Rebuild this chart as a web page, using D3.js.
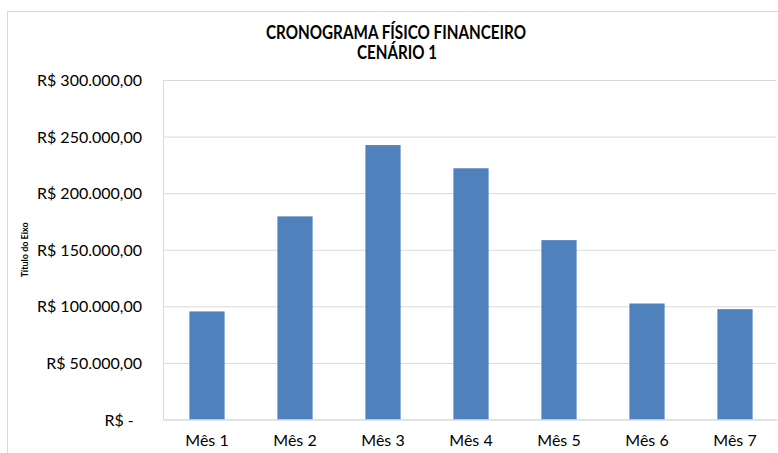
<!DOCTYPE html>
<html>
<head>
<meta charset="utf-8">
<script src="https://cdn.jsdelivr.net/npm/d3@7"></script>
<style>
  body { margin: 0; background: #fff; }
  text { font-family: Lato, "Open Sans", sans-serif; fill: #000; }
</style>
</head>
<body>
<div id="chart"></div>
<script>
// data
const categories = ["Mês 1", "Mês 2", "Mês 3", "Mês 4", "Mês 5", "Mês 6", "Mês 7"];
const values = [95500, 179500, 242500, 222000, 158500, 102500, 97500];
const yTicks = [0, 50000, 100000, 150000, 200000, 250000, 300000];
const titleLines = ["CRONOGRAMA FÍSICO FINANCEIRO", "CENÁRIO 1"];
const yAxisTitle = "Título do Eixo";

const width = 778, height = 453;
const margin = {top: 80, right: 0, bottom: 33.5, left: 163};
const plotW = width - margin.left - margin.right + 1;
const plotH = height - margin.top - margin.bottom;

const svg = d3.select("#chart").append("svg")
    .attr("width", width)
    .attr("height", height);

// chart area border (cropped on right & bottom)
svg.append("path")
    .attr("d", `M7.5,${height} V11.5 H${width}`)
    .attr("fill", "none")
    .attr("stroke", "#d9d9d9");

// title (calibri is narrower than what we have, so squeeze it a bit)
svg.append("text")
    .attr("x", 396).attr("y", 39)
    .attr("text-anchor", "middle")
    .attr("textLength", 260).attr("lengthAdjust", "spacingAndGlyphs")
    .style("font-weight", "bold").style("font-size", "18px")
    .text(titleLines[0]);
svg.append("text")
    .attr("x", 397).attr("y", 59)
    .attr("text-anchor", "middle")
    .attr("textLength", 80).attr("lengthAdjust", "spacingAndGlyphs")
    .style("font-weight", "bold").style("font-size", "18px")
    .text(titleLines[1]);

const g = svg.append("g")
    .attr("transform", `translate(${margin.left},${margin.top})`);

const x = d3.scaleBand()
    .domain(categories)
    .range([0, plotW])
    .paddingInner(0.6)
    .paddingOuter(0.3);

const y = d3.scaleLinear()
    .domain([0, 300000])
    .range([plotH, 0]);

const fmt = v => v === 0 ? "R$ -\u00a0\u00a0" :
    "R$ " + d3.format(",.2f")(v).replace(/,/g, "#").replace(".", ",").replace(/#/g, ".");

// gridlines
g.append("g")
    .attr("class", "grid")
    .call(d3.axisLeft(y).tickValues(yTicks).tickSize(-(plotW - 3)).tickFormat(""))
    .call(s => s.select(".domain").remove())
    .call(s => s.selectAll("line").attr("stroke", "#d9d9d9").attr("stroke-width", 1));

// y axis labels
g.append("g")
    .call(d3.axisLeft(y).tickValues(yTicks).tickSize(0).tickPadding(21).tickFormat(fmt))
    .call(s => s.select(".domain").remove())
    .call(s => s.selectAll("text").style("font-size", "16px").attr("dy", "0.35em"));

// left axis line
g.append("line")
    .attr("x1", 0.5).attr("x2", 0.5)
    .attr("y1", 0).attr("y2", plotH)
    .attr("stroke", "#d9d9d9");

// bars
g.selectAll("rect.bar")
    .data(values)
    .join("rect")
    .attr("class", "bar")
    .attr("x", (d, i) => x(categories[i]))
    .attr("y", d => y(d))
    .attr("width", x.bandwidth())
    .attr("height", d => plotH - y(d))
    .attr("fill", "#4f81bd");

// x axis
g.append("g")
    .attr("transform", `translate(0,${plotH})`)
    .call(d3.axisBottom(x).tickSize(0).tickPadding(15))
    .call(s => s.select(".domain").attr("stroke", "#d9d9d9"))
    .call(s => s.selectAll("text").style("font-size", "16px"));

// y axis title
svg.append("text")
    .attr("transform", `translate(28,${margin.top + plotH / 2}) rotate(-90)`)
    .attr("text-anchor", "middle")
    .style("font-weight", "bold").style("font-size", "9px")
    .text(yAxisTitle);
</script>
</body>
</html>
